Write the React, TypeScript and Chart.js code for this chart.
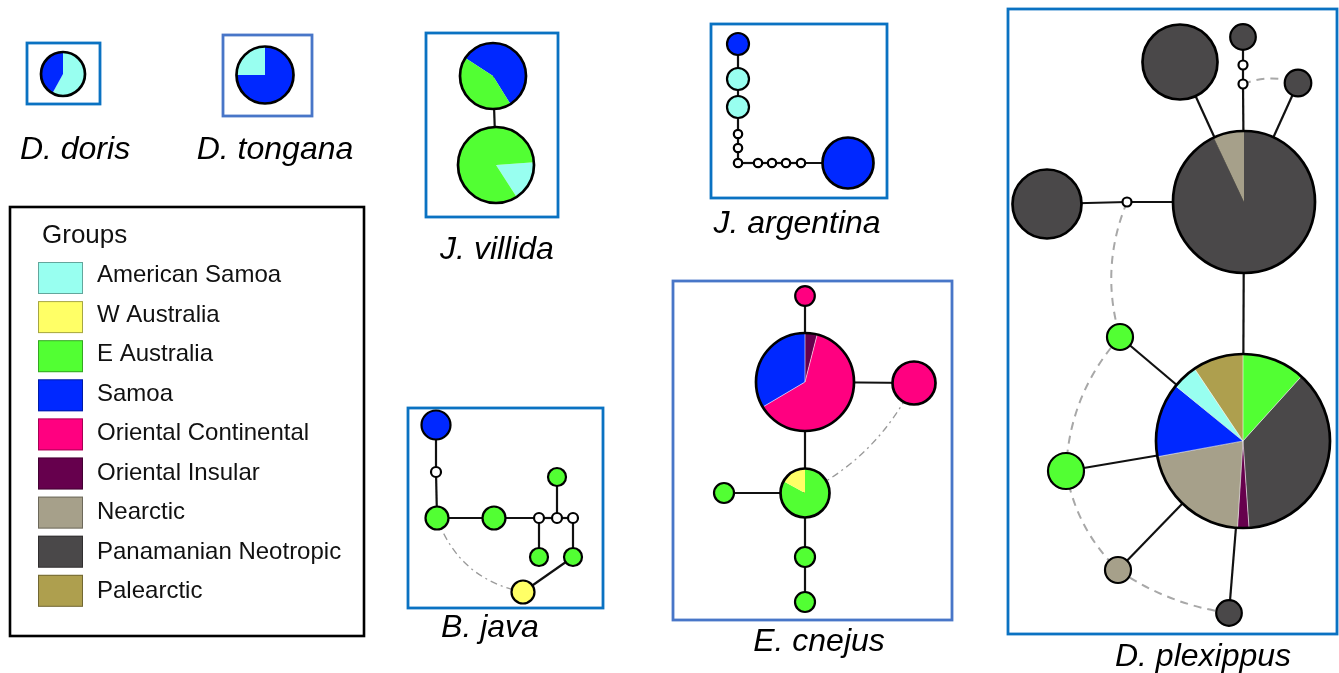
import { useEffect, useRef } from "react";
import { Chart, registerables } from "chart.js";

Chart.register(...registerables);

const W = 1339;
const H = 673;

// Legend groups and their colours
const groups = [
  "American Samoa",
  "W Australia",
  "E Australia",
  "Samoa",
  "Oriental Continental",
  "Oriental Insular",
  "Nearctic",
  "Panamanian Neotropic",
  "Palearctic",
];
const groupColors = [
  "#98fff0",
  "#ffff66",
  "#52ff33",
  "#0028ff",
  "#ff0080",
  "#66004d",
  "#a6a08a",
  "#4a4849",
  "#ae9f4e",
];

type Node = { x: number; y: number; r: number; mix: number[][]; start?: number };

// Haplotype nodes (position, size, composition: [groupIndex, share])
const dorisNodes: Node[] = [{ x: 63, y: 74, r: 22, mix: [[0, 58], [3, 42]] }];
const tonganaNodes: Node[] = [{ x: 265, y: 75, r: 28.5, mix: [[3, 75], [0, 25]] }];
const villidaNodes: Node[] = [
  { x: 493, y: 76, r: 33, mix: [[3, 57], [2, 43]], start: -57 },
  { x: 496, y: 165, r: 38, mix: [[0, 17], [2, 83]], start: 86 },
];
const villidaEdges = [[0, 1]];
const argentinaNodes: Node[] = [
  { x: 738, y: 44, r: 11, mix: [[3, 1]] },
  { x: 738, y: 79, r: 11, mix: [[0, 1]] },
  { x: 738, y: 107, r: 11, mix: [[0, 1]] },
  { x: 738, y: 134, r: 4.2, mix: [] },
  { x: 738, y: 148, r: 4.2, mix: [] },
  { x: 738, y: 163, r: 4.2, mix: [] },
  { x: 758, y: 163, r: 4.2, mix: [] },
  { x: 772, y: 163, r: 4.2, mix: [] },
  { x: 786, y: 163, r: 4.2, mix: [] },
  { x: 801, y: 163, r: 4.2, mix: [] },
  { x: 848, y: 163, r: 25.5, mix: [[3, 1]] },
];
const argentinaEdges = [[0, 1], [1, 2], [2, 3], [3, 4], [4, 5], [5, 6], [6, 7], [7, 8], [8, 9], [9, 10]];
const javaNodes: Node[] = [
  { x: 436, y: 425, r: 14.5, mix: [[3, 1]] },
  { x: 436, y: 472, r: 5, mix: [] },
  { x: 437, y: 518, r: 11.5, mix: [[2, 1]] },
  { x: 494, y: 518, r: 11.5, mix: [[2, 1]] },
  { x: 539, y: 518, r: 5, mix: [] },
  { x: 557, y: 518, r: 5, mix: [] },
  { x: 573, y: 518, r: 5, mix: [] },
  { x: 557, y: 477, r: 9, mix: [[2, 1]] },
  { x: 539, y: 557, r: 9, mix: [[2, 1]] },
  { x: 573, y: 557, r: 9, mix: [[2, 1]] },
  { x: 523, y: 592, r: 11.5, mix: [[1, 1]] },
];
const javaEdges = [[0, 1], [1, 2], [2, 3], [3, 4], [4, 5], [5, 6], [5, 7], [4, 8], [6, 9], [9, 10]];
const javaLinks = [[2, 10, 16]];
const cnejusNodes: Node[] = [
  { x: 805, y: 296, r: 9.8, mix: [[4, 1]] },
  { x: 805, y: 382, r: 49, mix: [[5, 4], [4, 62.5], [3, 33.5]] },
  { x: 914, y: 383, r: 21.5, mix: [[4, 1]] },
  { x: 805, y: 493, r: 24.5, mix: [[2, 83], [1, 17]] },
  { x: 724, y: 493, r: 10, mix: [[2, 1]] },
  { x: 805, y: 557, r: 10, mix: [[2, 1]] },
  { x: 805, y: 602, r: 10, mix: [[2, 1]] },
];
const cnejusEdges = [[0, 1], [1, 2], [1, 3], [3, 4], [3, 5], [5, 6]];
const cnejusLinks = [[2, 3, -13]];
const plexippusNodes: Node[] = [
  { x: 1180, y: 62, r: 37.5, mix: [[7, 1]] },
  { x: 1243, y: 37, r: 12.8, mix: [[7, 1]] },
  { x: 1243, y: 65, r: 4.5, mix: [] },
  { x: 1243, y: 84, r: 4.5, mix: [] },
  { x: 1298, y: 83, r: 13.3, mix: [[7, 1]] },
  { x: 1244, y: 202, r: 71, mix: [[7, 93], [6, 7]] },
  { x: 1047, y: 204, r: 34.5, mix: [[7, 1]] },
  { x: 1127, y: 202, r: 4.5, mix: [] },
  { x: 1243, y: 441, r: 87, mix: [[2, 11.7], [7, 37.2], [5, 2.1], [6, 21.1], [3, 13.8], [0, 4.7], [8, 9.4]] },
  { x: 1120, y: 337, r: 13, mix: [[2, 1]] },
  { x: 1066, y: 471, r: 18, mix: [[2, 1]] },
  { x: 1118, y: 570, r: 13, mix: [[6, 1]] },
  { x: 1229, y: 613, r: 12.8, mix: [[7, 1]] },
];
const plexippusEdges = [[0, 5], [1, 2], [2, 3], [3, 5], [4, 5], [6, 7], [7, 5], [5, 8], [8, 9], [8, 10], [8, 11], [8, 12]];
const plexippusLinks = [[3, 4, -5], [7, 9, 12], [9, 10, 13], [10, 11, 9], [11, 12, 7]];

// Panel names
const panelNames = ["D. doris", "D. tongana", "J. villida", "J. argentina", "B. java", "E. cnejus", "D. plexippus"];

type Panel = {
  name: string;
  nodes: Node[];
  edges: number[][];
  links: number[][];
  linkStyle: string;
  box: number[];
  boxColor: string;
  label: number[];
};

const BLUE_A = "#0a72c2";
const BLUE_B = "#4876c8";

const panels: Panel[] = [
  { name: panelNames[0], nodes: dorisNodes, edges: [], links: [], linkStyle: "dot", box: [27, 43, 100, 104], boxColor: BLUE_A, label: [75, 159] },
  { name: panelNames[1], nodes: tonganaNodes, edges: [], links: [], linkStyle: "dot", box: [223, 35, 312, 116], boxColor: BLUE_B, label: [275, 159] },
  { name: panelNames[2], nodes: villidaNodes, edges: villidaEdges, links: [], linkStyle: "dot", box: [426, 33, 558, 217], boxColor: BLUE_A, label: [497, 259] },
  { name: panelNames[3], nodes: argentinaNodes, edges: argentinaEdges, links: [], linkStyle: "dot", box: [711, 24, 887, 198], boxColor: BLUE_A, label: [797, 233] },
  { name: panelNames[4], nodes: javaNodes, edges: javaEdges, links: javaLinks, linkStyle: "dot", box: [408, 408, 603, 608], boxColor: BLUE_A, label: [490, 637] },
  { name: panelNames[5], nodes: cnejusNodes, edges: cnejusEdges, links: cnejusLinks, linkStyle: "dot", box: [673, 281, 952, 620], boxColor: BLUE_B, label: [819, 651] },
  { name: panelNames[6], nodes: plexippusNodes, edges: plexippusEdges, links: plexippusLinks, linkStyle: "dash", box: [1008, 9, 1337, 634], boxColor: BLUE_A, label: [1203, 666] },
];

const FONT = "'Liberation Sans', Arial, sans-serif";

const networkPlugin = {
  id: "network",
  afterDatasetsDraw(chart: any) {
    const ctx: CanvasRenderingContext2D = chart.ctx;
    const xs = chart.scales.x;
    const ys = chart.scales.y;
    const px = (v: number) => xs.getPixelForValue(v);
    const py = (v: number) => ys.getPixelForValue(v);
    const rp = (v: number) => Math.abs(xs.getPixelForValue(v) - xs.getPixelForValue(0));

    ctx.save();

    // panel boxes
    panels.forEach((p) => {
      const [x0, y0, x1, y1] = p.box;
      ctx.strokeStyle = p.boxColor;
      ctx.lineWidth = 2.8;
      ctx.strokeRect(px(x0), py(y0), px(x1) - px(x0), py(y1) - py(y0));
    });

    panels.forEach((p, di) => {
      const meta = chart.getDatasetMeta(di);
      const pts = meta.data.map((el: any) => ({ x: el.x, y: el.y }));

      // dashed links
      p.links.forEach(([a, b, bend]) => {
        const A = pts[a];
        const B = pts[b];
        const dx = B.x - A.x;
        const dy = B.y - A.y;
        const L = Math.hypot(dx, dy);
        const nx = -dy / L;
        const ny = dx / L;
        const off = rp(bend) * Math.sign(bend) * 2;
        const cx = (A.x + B.x) / 2 + nx * off;
        const cy = (A.y + B.y) / 2 + ny * off;
        ctx.beginPath();
        ctx.moveTo(A.x, A.y);
        ctx.quadraticCurveTo(cx, cy, B.x, B.y);
        if (p.linkStyle === "dash") {
          ctx.setLineDash([8, 6]);
          ctx.strokeStyle = "#a8a8a8";
          ctx.lineWidth = 2;
        } else {
          ctx.setLineDash([7, 4, 2, 4]);
          ctx.strokeStyle = "#9a9a9a";
          ctx.lineWidth = 1.3;
        }
        ctx.stroke();
        ctx.setLineDash([]);
      });

      // solid edges
      ctx.strokeStyle = "#111";
      ctx.lineWidth = 2.2;
      p.edges.forEach(([a, b]) => {
        ctx.beginPath();
        ctx.moveTo(pts[a].x, pts[a].y);
        ctx.lineTo(pts[b].x, pts[b].y);
        ctx.stroke();
      });

      // nodes
      p.nodes.forEach((n, i) => {
        const { x, y } = pts[i];
        const r = rp(n.r);
        const lw = n.r > 20 ? 2.7 : 2.2;
        if (!n.mix.length) {
          ctx.beginPath();
          ctx.arc(x, y, r, 0, Math.PI * 2);
          ctx.fillStyle = "#fff";
          ctx.fill();
        } else {
          const total = n.mix.reduce((s, m) => s + m[1], 0);
          let a = -Math.PI / 2 + ((n.start || 0) * Math.PI) / 180;
          const bounds: number[] = [];
          n.mix.forEach(([g, v]) => {
            const da = (v / total) * Math.PI * 2;
            ctx.beginPath();
            ctx.moveTo(x, y);
            ctx.arc(x, y, r, a, a + da);
            ctx.closePath();
            ctx.fillStyle = groupColors[g];
            ctx.fill();
            bounds.push(a);
            a += da;
          });
          if (n.mix.length > 2) {
            ctx.strokeStyle = "rgba(255,255,255,0.75)";
            ctx.lineWidth = 0.8;
            bounds.forEach((b) => {
              ctx.beginPath();
              ctx.moveTo(x, y);
              ctx.lineTo(x + Math.cos(b) * r, y + Math.sin(b) * r);
              ctx.stroke();
            });
          }
        }
        ctx.beginPath();
        ctx.arc(x, y, r, 0, Math.PI * 2);
        ctx.strokeStyle = "#000";
        ctx.lineWidth = lw;
        ctx.stroke();
      });

      // panel label
      ctx.fillStyle = "#000";
      ctx.font = `italic 32px ${FONT}`;
      ctx.textAlign = "center";
      ctx.textBaseline = "alphabetic";
      ctx.fillText(p.name, px(p.label[0]), py(p.label[1]));
    });

    // legend
    ctx.strokeStyle = "#000";
    ctx.lineWidth = 2.6;
    ctx.strokeRect(px(10), py(207), px(364) - px(10), py(636) - py(207));
    ctx.fillStyle = "#111";
    ctx.textAlign = "left";
    ctx.font = `26px ${FONT}`;
    ctx.fillText("Groups", px(42), py(243));
    ctx.font = `24px ${FONT}`;
    groups.forEach((g, i) => {
      const top = 262 + i * 39.1;
      ctx.fillStyle = groupColors[i];
      ctx.fillRect(px(38), py(top), 45, 32);
      ctx.strokeStyle = "rgba(0,0,0,0.35)";
      ctx.lineWidth = 1;
      ctx.strokeRect(px(38) + 0.5, py(top) + 0.5, 44, 31);
      ctx.fillStyle = "#111";
      ctx.fillText(g, px(97), py(282 + i * 39.5));
    });

    ctx.restore();
  },
};

export default function App() {
  const ref = useRef<HTMLCanvasElement | null>(null);
  useEffect(() => {
    if (!ref.current) return;
    const chart = new Chart(ref.current, {
      type: "scatter",
      data: {
        datasets: panels.map((p) => ({
          label: p.name,
          data: p.nodes.map((n) => ({ x: n.x, y: n.y })),
          pointRadius: 0,
          pointHoverRadius: 0,
        })),
      },
      options: {
        responsive: false,
        maintainAspectRatio: false,
        animation: false,
        events: [],
        layout: { padding: 0 },
        scales: {
          x: { type: "linear", min: 0, max: W, display: false },
          y: { type: "linear", min: 0, max: H, reverse: true, display: false },
        },
        plugins: { legend: { display: false }, tooltip: { enabled: false } },
      },
      plugins: [networkPlugin],
    });
    return () => chart.destroy();
  }, []);
  return (
    <div style={{ position: "fixed", left: 0, top: 0, width: W, height: H, background: "#fff" }}>
      <canvas ref={ref} width={W} height={H} style={{ display: "block", width: W, height: H }} />
    </div>
  );
}
